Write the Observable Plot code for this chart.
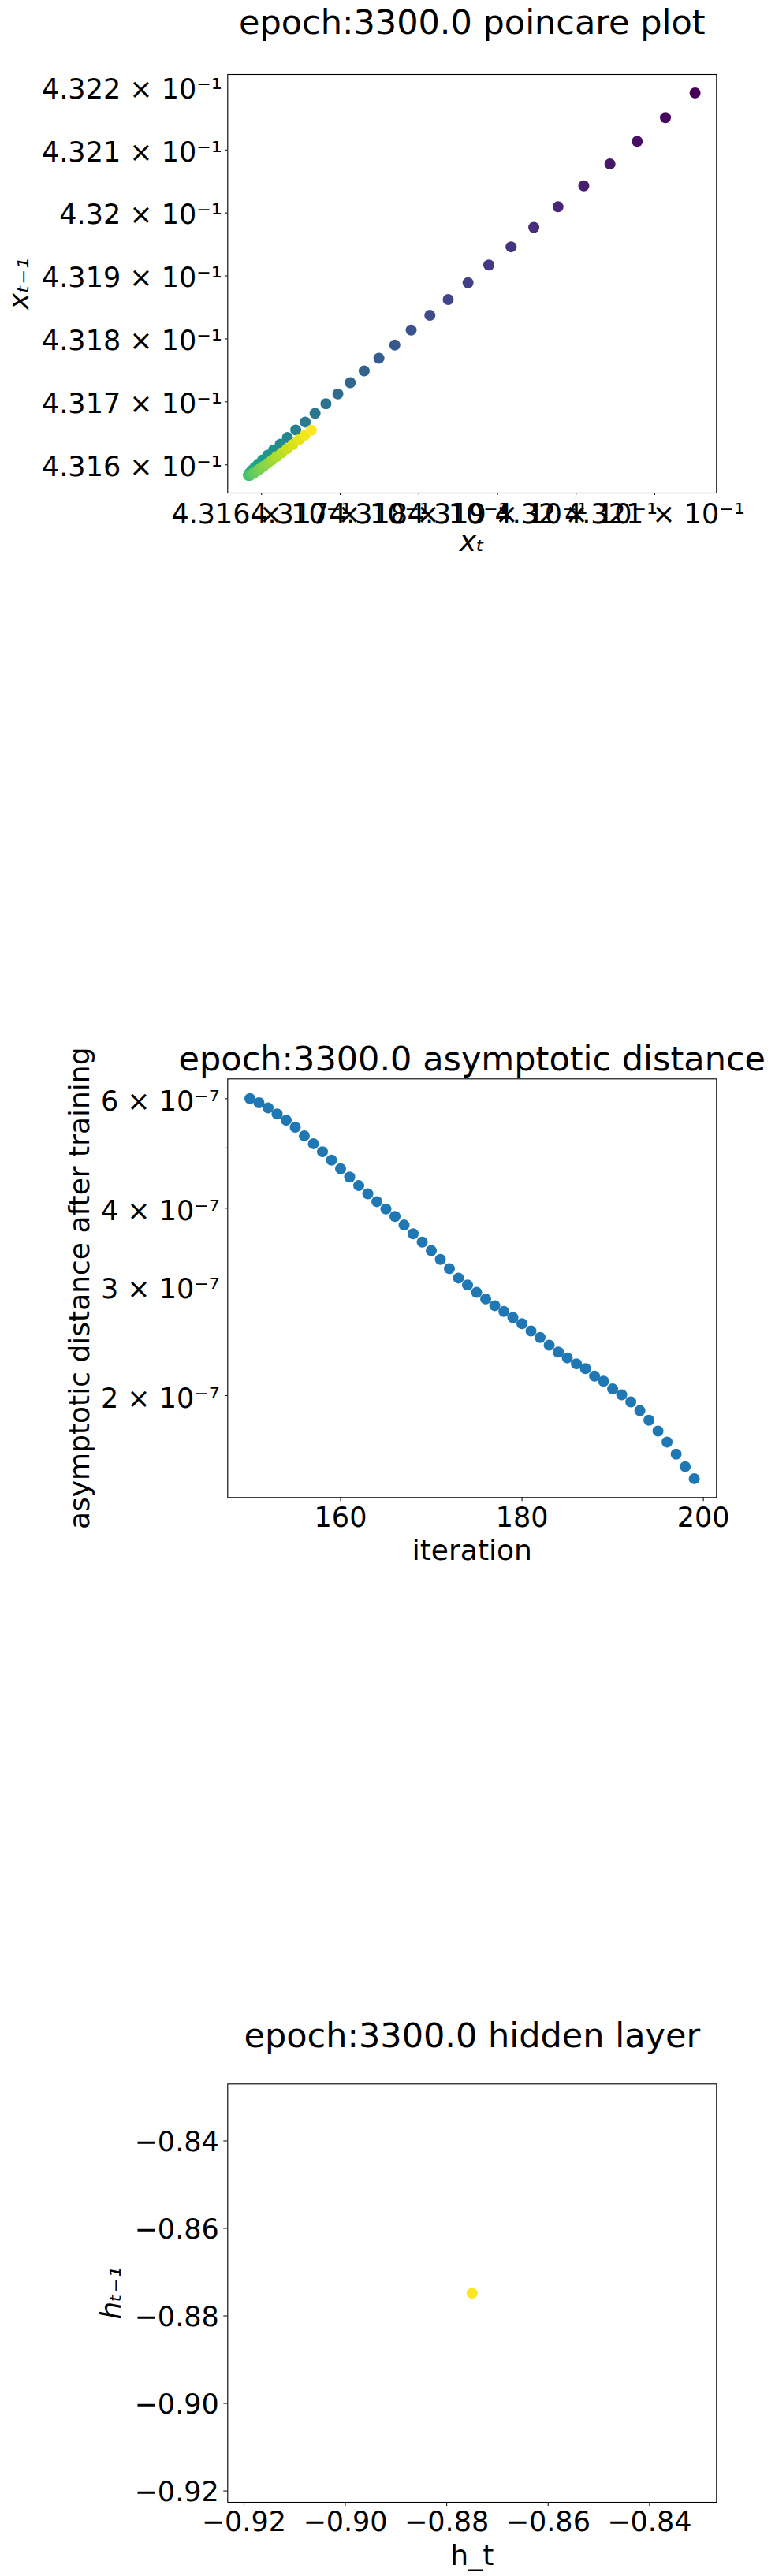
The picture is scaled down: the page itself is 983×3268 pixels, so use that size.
<!DOCTYPE html>
<html>
<head>
<meta charset="utf-8">
<script src="https://cdn.jsdelivr.net/npm/d3@7"></script>
<script src="https://cdn.jsdelivr.net/npm/@observablehq/plot@0.6"></script>
<style>
  html, body { margin: 0; padding: 0; background: #ffffff; }
  #wrap { position: relative; width: 983px; height: 3268px; background: #ffffff; overflow: hidden; }
  .panel { position: absolute; left: 0; }
  .panel svg { overflow: visible; }
</style>
</head>
<body>
<div id="wrap">
  <div class="panel" id="p1" style="top:0px"></div>
  <div class="panel" id="p2" style="top:1300px"></div>
  <div class="panel" id="p3" style="top:2560px"></div>
</div>
<script>
const FONT = "DejaVu Sans";

// ---------- panel 1: poincare plot ----------
const poincareTitle = "epoch:3300.0 poincare plot";
const poincareXLabel = "xₜ";
const poincareYLabel = "xₜ₋₁";
// successive values x_0 ... x_49 of the trajectory
const poincareSeq = [
  0.4321907, 0.4321514, 0.4321137, 0.4320778, 0.4320431, 0.4320098, 0.4319770, 0.4319462,
  0.4319173, 0.4318890, 0.4318625, 0.4318373, 0.4318140, 0.4317902, 0.4317694, 0.4317492,
  0.4317304, 0.4317127, 0.4316970, 0.4316818, 0.4316680, 0.4316555, 0.4316434, 0.4316328,
  0.4316238, 0.4316153, 0.4316078, 0.4316013, 0.4315958, 0.4315913, 0.4315878, 0.4315853,
  0.4315838, 0.4315833, 0.4315835, 0.4315848, 0.4315869, 0.4315898, 0.4315934, 0.4315976,
  0.4316023, 0.4316075, 0.4316131, 0.4316191, 0.4316255, 0.4316323, 0.4316396, 0.4316472,
  0.4316551, 0.4316632
];
const poincareXTicks = [0.4316, 0.4317, 0.4318, 0.4319, 0.4320, 0.4321];
const poincareYTicks = [0.4316, 0.4317, 0.4318, 0.4319, 0.4320, 0.4321, 0.4322];

// ---------- panel 2: asymptotic distance ----------
const distTitle = "epoch:3300.0 asymptotic distance";
const distXLabel = "iteration";
const distYLabel = "asymptotic distance after training";
const iterations = [
  150, 151, 152, 153, 154, 155, 156, 157, 158, 159,
  160, 161, 162, 163, 164, 165, 166, 167, 168, 169,
  170, 171, 172, 173, 174, 175, 176, 177, 178, 179,
  180, 181, 182, 183, 184, 185, 186, 187, 188, 189,
  190, 191, 192, 193, 194, 195, 196, 197, 198, 199
];
const asymDistance = [
  6.00e-7, 5.91e-7, 5.80e-7, 5.67e-7, 5.54e-7, 5.40e-7, 5.23e-7, 5.08e-7, 4.93e-7, 4.78e-7,
  4.63e-7, 4.49e-7, 4.35e-7, 4.22e-7, 4.10e-7, 3.99e-7, 3.88e-7, 3.76e-7, 3.64e-7, 3.53e-7,
  3.42e-7, 3.31e-7, 3.20e-7, 3.09e-7, 3.01e-7, 2.93e-7, 2.86e-7, 2.79e-7, 2.73e-7, 2.67e-7,
  2.61e-7, 2.54e-7, 2.48e-7, 2.41e-7, 2.35e-7, 2.30e-7, 2.25e-7, 2.21e-7, 2.15e-7, 2.11e-7,
  2.05e-7, 2.006e-7, 1.954e-7, 1.892e-7, 1.826e-7, 1.754e-7, 1.684e-7, 1.611e-7, 1.538e-7, 1.471e-7
];
const distYTicks = [2e-7, 3e-7, 4e-7, 5e-7, 6e-7];
const distYTickLabels = ["2 × 10⁻⁷", "3 × 10⁻⁷", "4 × 10⁻⁷", "", "6 × 10⁻⁷"];
const distXTicks = [160, 180, 200];

// ---------- panel 3: hidden layer ----------
const hiddenTitle = "epoch:3300.0 hidden layer";
const hiddenXLabel = "h_t";
const hiddenYLabel = "hₜ₋₁";
const hiddenT = [-0.8750];
const hiddenPrev = [-0.8748];
const hiddenTicks = [-0.92, -0.90, -0.88, -0.86, -0.84];

// ---------- helpers ----------
const baseStyle = {fontFamily: FONT, fontSize: "35px", background: "#ffffff", color: "#000000"};
const fmtPoincare = d => `${+(d * 10).toFixed(4)} × 10⁻¹`;
const fmtHidden = d => d.toFixed(2).replace("-", "−");
const fmtDist = d => distYTickLabels[distYTicks.findIndex(t => Math.abs(t - d) < 1e-12)] ?? "";

function titleMark(text, dy) {
  return Plot.text([text], {text: d => d, frameAnchor: "top", textAnchor: "middle", lineAnchor: "middle", dy, fontSize: 43, fill: "#000"});
}
function xLabelMark(text, dy, italic) {
  return Plot.text([text], {text: d => d, frameAnchor: "bottom", textAnchor: "middle", lineAnchor: "middle", dy, fontSize: 36, fill: "#000", fontStyle: italic ? "italic" : "normal"});
}
function yLabelMark(text, dx, italic) {
  return Plot.text([text], {text: d => d, frameAnchor: "left", textAnchor: "middle", lineAnchor: "middle", rotate: -90, dx, fontSize: 36, fill: "#000", fontStyle: italic ? "italic" : "normal"});
}

// ---------- panel 1 ----------
const poincarePts = poincareSeq.slice(1).map((v, i) => ({xt: v, xprev: poincareSeq[i], idx: i}));
const plot1 = Plot.plot({
  width: 983, height: 760,
  marginTop: 94, marginBottom: 135, marginLeft: 288.3, marginRight: 74.7,
  style: baseStyle,
  x: {type: "log", domain: [0.4315569, 0.4321787]},
  y: {type: "log", domain: [0.4315553, 0.4322200]},
  color: {type: "linear", scheme: "viridis", domain: [0, poincarePts.length - 1]},
  marks: [
    Plot.dot(poincarePts, {x: "xt", y: "xprev", fill: "idx", r: 7}),
    Plot.frame({stroke: "#000", strokeWidth: 1.1}),
    Plot.axisX({ticks: poincareXTicks, tickFormat: fmtPoincare, tickSize: 3, tickPadding: 11, label: null, fontSize: 35, strokeWidth: 1}),
    Plot.axisY({ticks: poincareYTicks, tickSize: 3, tickPadding: 4, label: null, fill: "none", strokeWidth: 1}),
    Plot.axisY({ticks: poincareYTicks, tickFormat: fmtPoincare, tickSize: 3, tickPadding: 4, label: null, stroke: "none", fontSize: 35, dy: 3}),
    titleMark(poincareTitle, -64.8),
    xLabelMark(poincareXLabel, 61.5, true),
    yLabelMark(poincareYLabel, -264.8, true)
  ]
});
document.getElementById("p1").appendChild(plot1);

// ---------- panel 2 ----------
const distPts = iterations.map((it, i) => ({it, d: asymDistance[i]}));
const plot2 = Plot.plot({
  width: 983, height: 700,
  marginTop: 68.3, marginBottom: 100.7, marginLeft: 288.3, marginRight: 74.7,
  style: baseStyle,
  x: {domain: [147.55, 201.45]},
  y: {type: "log", domain: [1.372e-7, 6.454e-7]},
  marks: [
    Plot.dot(distPts, {x: "it", y: "d", fill: "#1f77b4", r: 7}),
    Plot.frame({stroke: "#000", strokeWidth: 1.1}),
    Plot.axisX({ticks: distXTicks, tickFormat: d => String(d), tickSize: 5, tickPadding: 7.4, label: null, fontSize: 35, strokeWidth: 1}),
    Plot.axisY({ticks: distYTicks, tickSize: 3, tickPadding: 7, label: null, fill: "none", strokeWidth: 1}),
    Plot.axisY({ticks: distYTicks, tickFormat: fmtDist, tickSize: 3, tickPadding: 7, label: null, stroke: "none", fontSize: 35, dy: 4}),
    titleMark(distTitle, -24.1),
    xLabelMark(distXLabel, 67.2, false),
    yLabelMark(distYLabel, -187.8, false)
  ]
});
document.getElementById("p2").appendChild(plot2);

// ---------- panel 3 ----------
const hiddenPts = hiddenT.map((v, i) => ({ht: v, hprev: hiddenPrev[i]}));
const plot3 = Plot.plot({
  width: 983, height: 708,
  marginTop: 83.3, marginBottom: 94, marginLeft: 288.3, marginRight: 74.7,
  style: baseStyle,
  x: {domain: [-0.9232, -0.8268]},
  y: {domain: [-0.9226, -0.8270]},
  marks: [
    Plot.dot(hiddenPts, {x: "ht", y: "hprev", fill: "#fde725", r: 7}),
    Plot.frame({stroke: "#000", strokeWidth: 1.1}),
    Plot.axisX({ticks: hiddenTicks, tickFormat: fmtHidden, tickSize: 5, tickPadding: 7, label: null, fontSize: 35, strokeWidth: 1}),
    Plot.axisY({ticks: hiddenTicks, tickSize: 5, tickPadding: 6, label: null, fill: "none", strokeWidth: 1}),
    Plot.axisY({ticks: hiddenTicks, tickFormat: fmtHidden, tickSize: 5, tickPadding: 6, label: null, stroke: "none", fontSize: 35, dy: 2}),
    titleMark(hiddenTitle, -60.1),
    xLabelMark(hiddenXLabel, 67.5, false),
    yLabelMark(hiddenYLabel, -146.9, true)
  ]
});
document.getElementById("p3").appendChild(plot3);
</script>
</body>
</html>
